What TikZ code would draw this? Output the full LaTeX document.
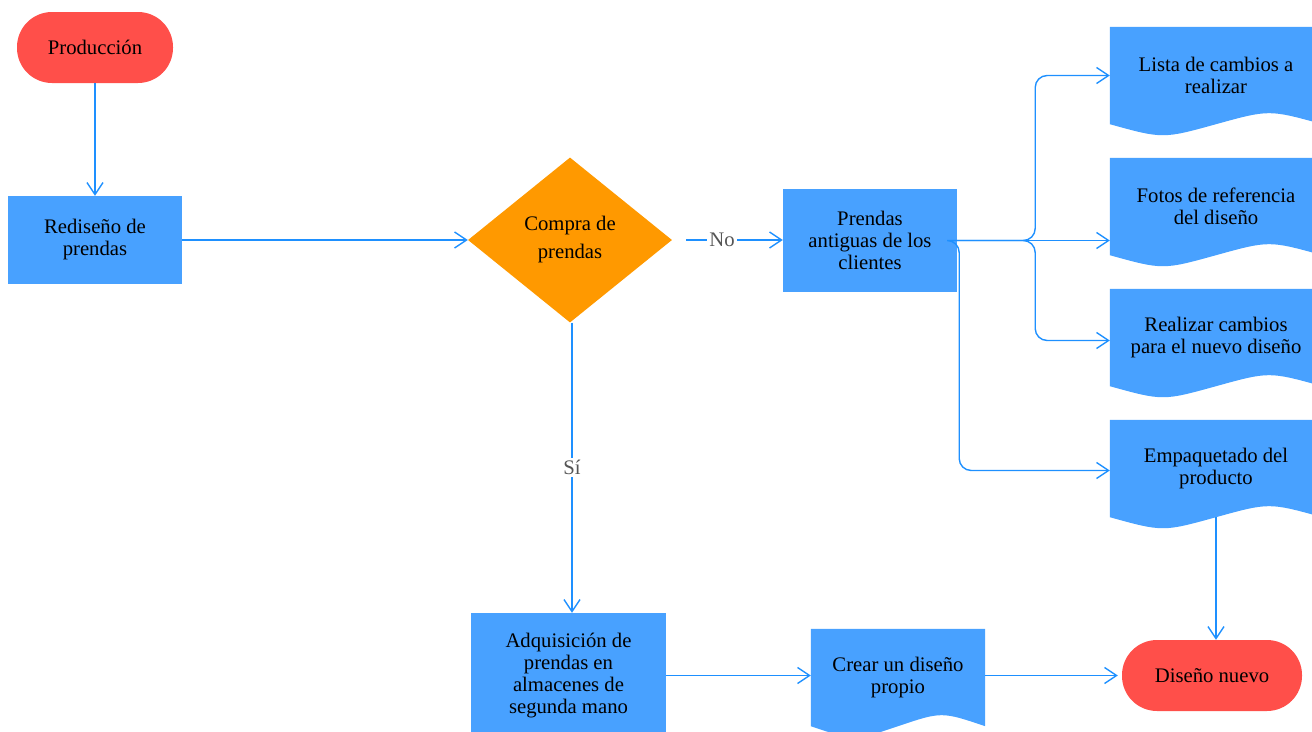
\documentclass[tikz,border=0pt]{standalone}
\usepackage{fontspec}
\setmainfont{Liberation Serif}
\usetikzlibrary{shapes.geometric,arrows.meta,calc,backgrounds}
\definecolor{boxblue}{RGB}{72,161,255}
\definecolor{termred}{RGB}{255,79,74}
\definecolor{decorange}{RGB}{255,153,0}
\definecolor{linkblue}{RGB}{30,144,255}
\definecolor{lblgray}{RGB}{85,85,85}
\tikzset{
  base/.style={inner sep=0pt, align=center, text=black, font=\fontsize{20.7}{22}\selectfont},
  procbox/.style={base, rectangle, fill=boxblue},
  termbox/.style={base, rectangle, rounded corners=35pt, fill=termred},
  decbox/.style={base, diamond, fill=decorange, font=\fontsize{20.7}{28}\selectfont},
  docbox/.style={base, rectangle},
  conn/.style={draw=linkblue, line width=1.4pt, -{Straight Barb[length=12pt,width=16pt,line width=1.4pt]}},
  lbl/.style={fill=white, text=lblgray, inner sep=2pt, font=\fontsize{20.7}{22}\selectfont}
}
\newcommand\docbg[1]{%
  \fill[boxblue] (#1.north west) -- (#1.north east) -- (#1.south east)
    .. controls ($(#1.south)!0.5!(#1.south east)+(0,-14.7)$) .. (#1.south)
    .. controls ($(#1.south west)!0.5!(#1.south)+(0,14.7)$) .. (#1.south west) -- cycle;}
\begin{document}
\begin{tikzpicture}[x=1pt,y=-1pt]
\useasboundingbox (0,0) rectangle (1312,731);
\clip (0,0) rectangle (1312,731);
% nodes
\node[termbox, minimum width=156pt, minimum height=71pt] (prod) at (95,47.5) {Producción};
\node[procbox, minimum width=174pt, minimum height=88pt] (red) at (95,240) {Rediseño de\\prendas};
\node[decbox, minimum width=204pt, minimum height=165pt] (dec) at (570,240) {Compra de\\prendas};
\node[procbox, minimum width=174pt, minimum height=103pt] (pren) at (870,240.5) {Prendas\\antiguas de los\\clientes};
\node[docbox, minimum width=212pt, minimum height=97pt] (lista) at (1216,75.5) {Lista de cambios a\\realizar};
\node[docbox, minimum width=212pt, minimum height=97pt] (fotos) at (1216,206.5) {Fotos de referencia\\del diseño};
\node[docbox, minimum width=212pt, minimum height=97pt] (real) at (1216,337.5) {Realizar cambios\\para el nuevo diseño};
\node[docbox, minimum width=212pt, minimum height=97pt] (emp) at (1216,468.5) {Empaquetado del\\producto};
\node[procbox, minimum width=195pt, minimum height=126pt] (adq) at (568.5,676) {Adquisición de\\prendas en\\almacenes de\\segunda mano};
\node[docbox, minimum width=174pt, minimum height=97pt] (crear) at (898,677.5) {Crear un diseño\\propio};
\node[termbox, minimum width=180pt, minimum height=71pt] (nuevo) at (1212,675.5) {Diseño nuevo};
\begin{scope}[on background layer]
\docbg{lista}
\docbg{fotos}
\docbg{real}
\docbg{emp}
\docbg{crear}
\end{scope}
% helper coordinates
\coordinate (fork) at ($(pren.east)+(78,0)$);
\coordinate (ebr) at ($(pren.east)+(2,0)$);
% connectors
\draw[conn] (prod.south) -- (red.north);
\draw[conn] (red.east) -- (dec.west);
\draw[conn, shorten <=14pt] (dec.east) -- node[lbl, pos=0.45] {No} (dec.east -| pren.west);
\draw[conn] ([xshift=2pt]dec.south) -- node[lbl] {Sí} ([xshift=2pt]dec.south |- adq.north);
\draw[conn, rounded corners=12pt] (pren.east) -- (fork) |- (lista.west);
\draw[conn] (pren.east) -- (pren.east -| fotos.west);
\draw[conn, rounded corners=12pt] (pren.east) -- (fork) |- ([yshift=-3pt]real.west);
\draw[conn, rounded corners=12pt] (pren.east) -- (ebr) |- ([yshift=-2pt]emp.west);
\draw[conn] (emp.south) -- (emp.south |- nuevo.north);
\draw[conn] (adq.east |- nuevo.west) -- (crear.west |- nuevo.west);
\draw[conn] (crear.east |- nuevo.west) -- ([xshift=-4pt]nuevo.west);
\end{tikzpicture}
\end{document}
